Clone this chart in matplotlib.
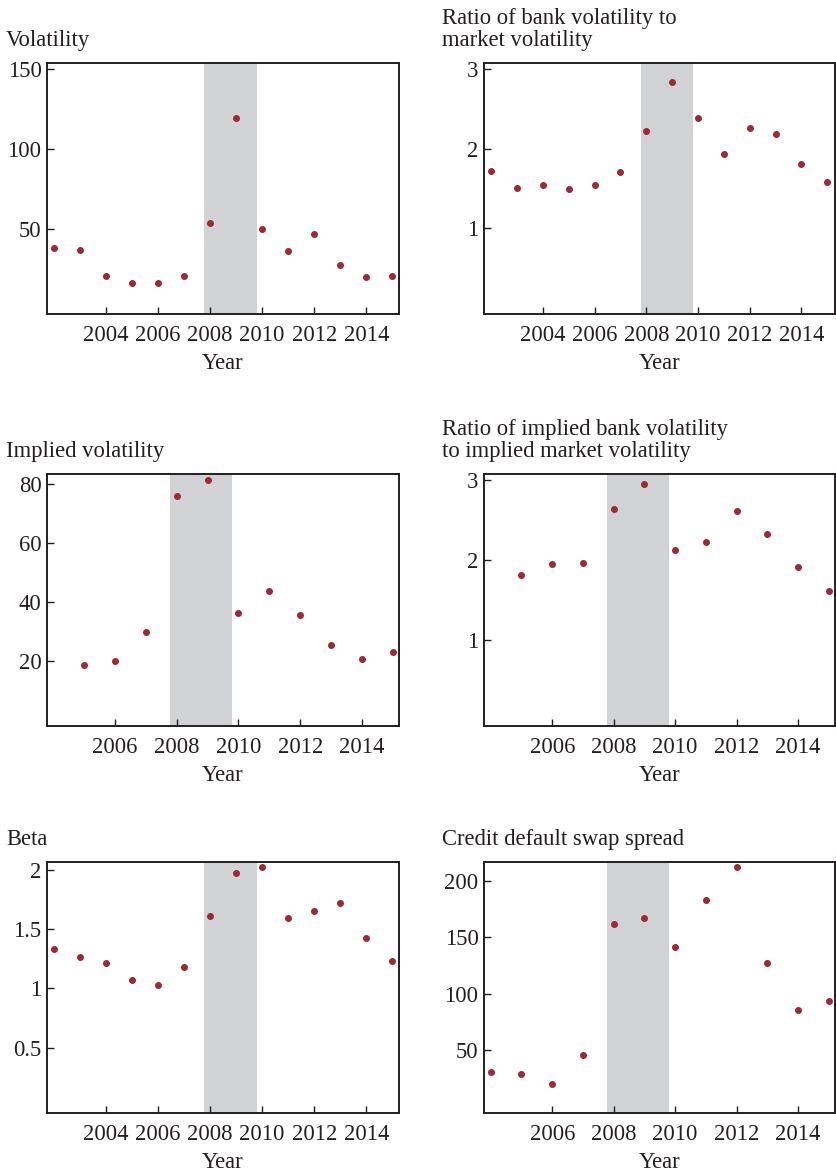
import matplotlib
matplotlib.use("Agg")
import matplotlib.pyplot as plt

# Datos
anios_a = [2002, 2003, 2004, 2005, 2006, 2007, 2008, 2009, 2010, 2011, 2012, 2013, 2014, 2015]
anios_b = [2005, 2006, 2007, 2008, 2009, 2010, 2011, 2012, 2013, 2014, 2015]
anios_c = [2004, 2005, 2006, 2007, 2008, 2009, 2010, 2011, 2012, 2013, 2014, 2015]

volatilidad = [38.1, 36.8, 20.1, 16.2, 16.2, 20.1, 53.8, 119.3, 50.0, 35.8, 46.7, 27.2, 19.9, 20.6]
ratio_vol = [1.72, 1.51, 1.55, 1.50, 1.55, 1.71, 2.22, 2.84, 2.39, 1.93, 2.26, 2.19, 1.81, 1.58]
vol_implicita = [18.7, 20.0, 30.0, 75.9, 81.3, 36.4, 43.6, 35.6, 25.3, 20.8, 23.0]
ratio_implicita = [1.81, 1.95, 1.97, 2.64, 2.95, 2.13, 2.23, 2.62, 2.33, 1.92, 1.61]
beta = [1.33, 1.26, 1.21, 1.07, 1.03, 1.18, 1.61, 1.97, 2.02, 1.59, 1.65, 1.72, 1.42, 1.23]
cds = [31.1, 29.4, 19.9, 45.6, 162.2, 166.9, 141.3, 183.2, 211.9, 127.1, 85.8, 93.4]

titulos = ["Volatility", "Ratio of bank volatility to\nmarket volatility",
           "Implied volatility", "Ratio of implied bank volatility\nto implied market volatility",
           "Beta", "Credit default swap spread"]

crisis = (2007.78, 2009.8)

# Configuracion general
plt.rcParams["font.family"] = ["Liberation Serif", "DejaVu Serif"]
plt.rcParams["font.size"] = 16.3
color_texto = "#231f20"
color_punto = "#9a2a36"

fig = plt.figure(figsize=(8.36, 11.75), dpi=100)

W, H = 836.0, 1175.0
izq = [47 / W, 484 / W]
ancho = [352 / W, 351 / W]
filas = [(62.7, 314.3), (474.0, 726.0), (861.7, 1113.3)]

paneles = [
    (anios_a, volatilidad, (2001.75, 2015.25), (-3.7, 154), [50, 100, 150], ["50", "100", "150"], [2004, 2006, 2008, 2010, 2012, 2014]),
    (anios_a, ratio_vol, (2001.72, 2015.3), (-0.08, 3.08), [1, 2, 3], ["1", "2", "3"], [2004, 2006, 2008, 2010, 2012, 2014]),
    (anios_b, vol_implicita, (2003.8, 2015.2), (-2.1, 83.5), [20, 40, 60, 80], ["20", "40", "60", "80"], [2006, 2008, 2010, 2012, 2014]),
    (anios_b, ratio_implicita, (2003.78, 2015.2), (-0.08, 3.08), [1, 2, 3], ["1", "2", "3"], [2006, 2008, 2010, 2012, 2014]),
    (anios_a, beta, (2001.75, 2015.25), (-0.053, 2.067), [0.5, 1, 1.5, 2], ["0.5", "1", "1.5", "2"], [2004, 2006, 2008, 2010, 2012, 2014]),
    (anios_c, cds, (2003.78, 2015.2), (-5.8, 217), [50, 100, 150, 200], ["50", "100", "150", "200"], [2006, 2008, 2010, 2012, 2014]),
]

for i, (x, y, xlim, ylim, yticks, ylabels, xticks) in enumerate(paneles):
    fila = i // 2
    col = i % 2
    arriba, abajo = filas[fila]
    ax = fig.add_axes([izq[col], 1 - abajo / H, ancho[col], (abajo - arriba) / H])

    ax.axvspan(crisis[0], crisis[1], color="#d1d2d4", lw=0, zorder=0)
    ax.plot(x, y, "o", color=color_punto, markersize=4.0, zorder=3)

    ax.set_xlim(xlim)
    ax.set_ylim(ylim)
    ax.set_xticks(xticks)
    ax.set_xticklabels([str(t) for t in xticks])
    ax.set_yticks(yticks)
    ax.set_yticklabels(ylabels)
    ax.tick_params(direction="in", length=5, width=1.0, color=color_texto,
                   labelcolor=color_texto, top=False, right=False, pad=4)
    ax.tick_params(axis="x", pad=8)
    for s in ax.spines.values():
        s.set_linewidth(1.4)
        s.set_color(color_texto)

    ax.set_xlabel("Year", color=color_texto, labelpad=5)

    # Titulo del panel, alineado a la izquierda sobre el eje
    dx = -41 if col == 0 else -42
    ax.annotate(titulos[i], xy=(0, 1), xycoords="axes fraction",
                xytext=(dx * 0.72, 17 * 0.72), textcoords="offset points",
                ha="left", va="baseline", color=color_texto, linespacing=1.05)

fig.savefig("out.png", dpi=100)
